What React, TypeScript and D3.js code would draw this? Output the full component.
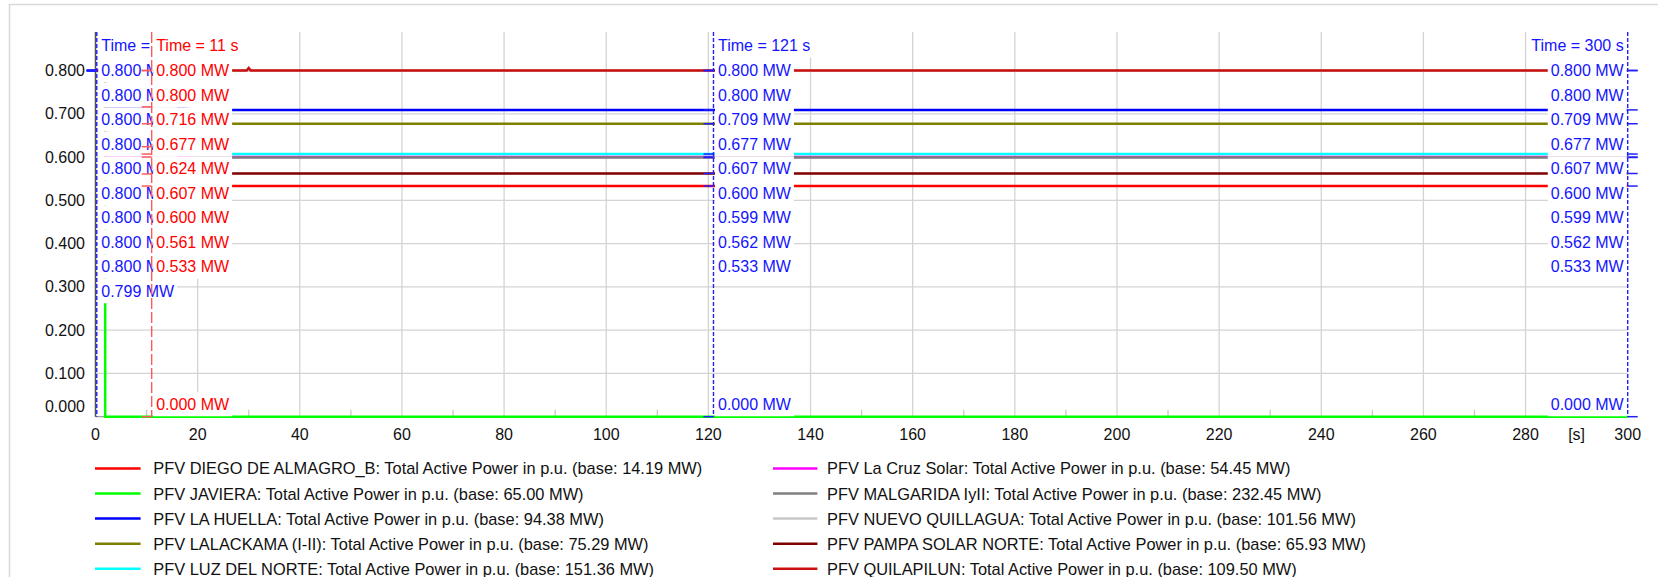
import React, { useEffect, useRef } from 'react';
import * as d3 from 'd3';

type Pt = [number, number];

// series data (time in s, value in p.u.)
const diegoDeAlmagro: Pt[] = [[0, 0.8], [1.9, 0.8], [1.9, 0.533], [300, 0.533]];
const javiera: Pt[] = [[0, 0.799], [1.9, 0.799], [1.9, 0], [300, 0]];
const laHuella: Pt[] = [[0, 0.8], [1.9, 0.8], [1.9, 0.716], [15, 0.716], [20, 0.709], [300, 0.709]];
const lalackama: Pt[] = [[0, 0.8], [1.9, 0.8], [1.9, 0.677], [300, 0.677]];
const luzDelNorte: Pt[] = [[0, 0.8], [1.9, 0.8], [1.9, 0.607], [300, 0.607]];
const laCruzSolar: Pt[] = [[0, 0.8], [1.9, 0.8], [1.9, 0.6], [300, 0.6]];
const malgarida: Pt[] = [[0, 0.8], [1.9, 0.8], [1.9, 0.624], [15, 0.624], [20, 0.599], [300, 0.599]];
const nuevoQuillagua: Pt[] = [[0, 0.8], [300, 0.8]];
const pampaSolarNorte: Pt[] = [[0, 0.8], [1.9, 0.8], [1.9, 0.561], [15, 0.561], [20, 0.562], [300, 0.562]];
const quilapilun: Pt[] = [[0, 0.8], [29.6, 0.8], [30, 0.806], [30.4, 0.8], [300, 0.8]];

const seriesNames = [
  'PFV DIEGO DE ALMAGRO_B', 'PFV JAVIERA', 'PFV LA HUELLA', 'PFV LALACKAMA (I-II)', 'PFV LUZ DEL NORTE',
  'PFV La Cruz Solar', 'PFV MALGARIDA IyII', 'PFV NUEVO QUILLAGUA', 'PFV PAMPA SOLAR NORTE', 'PFV QUILAPILUN',
];
const baseMW = [14.19, 65.0, 94.38, 75.29, 151.36, 54.45, 232.45, 101.56, 65.93, 109.5];
const seriesData = [
  diegoDeAlmagro, javiera, laHuella, lalackama, luzDelNorte,
  laCruzSolar, malgarida, nuevoQuillagua, pampaSolarNorte, quilapilun,
];
const seriesColors = [
  '#ff0000', '#00ff00', '#0000ff', '#808000', '#00ffff',
  '#ff00ff', '#808080', '#c8c8c8', '#800000', '#cc1010',
];

const cursorTimes = [0.25, 11, 121, 300];
const cursorLabels = ['Time = 0.25 s', 'Time = 11 s', 'Time = 121 s', 'Time = 300 s'];

const xTicks = [0, 20, 40, 60, 80, 100, 120, 140, 160, 180, 200, 220, 240, 260, 280, 300];
const xMinorTicks = [10, 30, 50, 70, 90, 110, 130, 150, 170, 190, 210, 230, 250, 270, 290];
const yTicks = [0, 0.1, 0.2, 0.3, 0.4, 0.5, 0.6, 0.7, 0.8];

function valueAt(pts: Pt[], t: number) {
  let i = 0;
  while (i < pts.length - 1 && pts[i + 1][0] <= t) i++;
  if (i >= pts.length - 1) return pts[pts.length - 1][1];
  const [t0, v0] = pts[i];
  const [t1, v1] = pts[i + 1];
  if (t1 === t0) return v1;
  return v0 + ((v1 - v0) * (t - t0)) / (t1 - t0);
}

export default function App() {
  const svgRef = useRef<SVGSVGElement>(null);

  useEffect(() => {
    if (!svgRef.current) return;
    const svg = d3.select(svgRef.current);
    svg.selectAll('*').remove();

    const font = '"Liberation Sans", Arial, sans-serif';
    const x = d3.scaleLinear().domain([0, 300]).range([95.5, 1627.7]);
    const y = d3.scaleLinear().domain([0, 0.889]).range([416.7, 32]);
    const [top, bottom] = [y.range()[1], y.range()[0]];

    // outer frame
    svg.append('path')
      .attr('d', 'M9.5,1000 V4.5 H2000')
      .attr('fill', 'none')
      .attr('stroke', '#d8d8d8')
      .attr('stroke-width', 1.5);

    // grid
    const grid = svg.append('g');
    grid.selectAll('line.v')
      .data(xTicks.filter(d => d > 0 && d < 300))
      .enter().append('line')
      .attr('x1', d => x(d)).attr('x2', d => x(d))
      .attr('y1', top).attr('y2', bottom)
      .attr('stroke', '#d4d4d4').attr('stroke-width', 1.3);
    grid.selectAll('line.h')
      .data(yTicks.filter(d => d > 0))
      .enter().append('line')
      .attr('x1', x(0)).attr('x2', x(300))
      .attr('y1', d => y(d)).attr('y2', d => y(d))
      .attr('stroke', '#d4d4d4').attr('stroke-width', 1.3);
    grid.selectAll('line.m')
      .data(xMinorTicks)
      .enter().append('line')
      .attr('x1', d => x(d)).attr('x2', d => x(d))
      .attr('y1', bottom).attr('y2', bottom - 7)
      .attr('stroke', '#c8c8c8').attr('stroke-width', 1.3);

    // axes
    svg.append('line')
      .attr('x1', x(0)).attr('x2', x(300)).attr('y1', bottom).attr('y2', bottom)
      .attr('stroke', '#a0a0a0').attr('stroke-width', 1.3);
    svg.append('line')
      .attr('x1', x(0)).attr('x2', x(0)).attr('y1', top).attr('y2', bottom)
      .attr('stroke', '#505050').attr('stroke-width', 1.5);

    svg.append('g').selectAll('text')
      .data(yTicks)
      .enter().append('text')
      .attr('x', 85)
      .attr('y', d => (d === 0 ? y(d) - 10 : y(d)))
      .attr('text-anchor', 'end')
      .attr('dominant-baseline', 'central')
      .attr('font-family', font).attr('font-size', 16).attr('fill', '#111')
      .text(d => d3.format('.3f')(d));

    svg.append('g').selectAll('text')
      .data(xTicks)
      .enter().append('text')
      .attr('x', d => x(d)).attr('y', 434)
      .attr('text-anchor', 'middle')
      .attr('dominant-baseline', 'central')
      .attr('font-family', font).attr('font-size', 16).attr('fill', '#111')
      .text(d => String(d));
    svg.append('text')
      .attr('x', x(290)).attr('y', 434)
      .attr('text-anchor', 'middle').attr('dominant-baseline', 'central')
      .attr('font-family', font).attr('font-size', 16).attr('fill', '#111')
      .text('[s]');

    // curves
    const line = d3.line<Pt>().x(d => x(d[0])).y(d => y(d[1]));
    svg.append('g').selectAll('path')
      .data(seriesData)
      .enter().append('path')
      .attr('d', d => line(d))
      .attr('fill', 'none')
      .attr('stroke', (_, i) => seriesColors[i])
      .attr('stroke-width', 2.5);

    // cursors
    const fmt = d3.format('.3f');
    const step = 24.5;
    cursorTimes.forEach((t, ci) => {
      const isRed = ci === 1;
      const textColor = isRed ? '#ff0000' : '#1414ff';
      const lineColor = isRed ? '#ff5a5a' : '#2020ff';
      const rightSide = t < 300;
      const cx = x(t);
      const g = svg.append('g');

      const vals = seriesData.map(s => valueAt(s, t)).sort((a, b) => b - a);
      const pos: number[] = [];
      vals.forEach((v, i) => {
        const p = y(v);
        pos.push(i === 0 ? p : Math.max(p, pos[i - 1] + step));
      });
      const maxY = bottom - 12.7;
      for (let i = pos.length - 1; i >= 0; i--) {
        if (i === pos.length - 1) pos[i] = Math.min(pos[i], maxY);
        else pos[i] = Math.min(pos[i], pos[i + 1] - step);
      }

      const labels = [{ text: cursorLabels[ci], yy: top + 13, h0: top, h1: top + 25.5 }]
        .concat(vals.map((v, i) => ({ text: `${fmt(v)} MW`, yy: pos[i], h0: pos[i] - step / 2, h1: pos[i] + step / 2 })));

      labels.forEach(l => {
        const tx = rightSide ? cx + 4.5 : cx - 4;
        const txt = g.append('text')
          .attr('x', tx).attr('y', l.yy)
          .attr('text-anchor', rightSide ? 'start' : 'end')
          .attr('dominant-baseline', 'central')
          .attr('font-family', font).attr('font-size', 16)
          .attr('fill', textColor)
          .text(l.text);
        const w = (txt.node() as SVGTextElement).getComputedTextLength();
        const x0 = rightSide ? tx - 3 : tx - w - 3;
        g.insert('rect', 'text')
          .attr('x', x0).attr('y', l.h0)
          .attr('width', w + 6).attr('height', l.h1 - l.h0)
          .attr('fill', '#fff');
      });

      // markers at the values
      g.selectAll('line.mk')
        .data(vals)
        .enter().append('line')
        .attr('x1', rightSide ? cx - 10 : cx).attr('x2', rightSide ? cx : cx + 10)
        .attr('y1', v => y(v)).attr('y2', v => y(v))
        .attr('stroke', lineColor).attr('stroke-width', 1.5);

      g.append('line')
        .attr('x1', cx).attr('x2', cx).attr('y1', top).attr('y2', bottom)
        .attr('stroke', lineColor).attr('stroke-width', 1.4)
        .attr('stroke-dasharray', isRed ? '11,3' : '4,2');
    });

    // legend
    const legend = svg.append('g');
    const colX = [[95, 140.6, 153.3], [773, 817.4, 827]];
    seriesNames.forEach((name, i) => {
      const col = Math.floor(i / 5);
      const row = i % 5;
      const ly = 468.4 + row * 25.1;
      const [l0, l1, tx] = colX[col];
      legend.append('line')
        .attr('x1', l0).attr('x2', l1).attr('y1', ly).attr('y2', ly)
        .attr('stroke', seriesColors[i]).attr('stroke-width', 2.5);
      legend.append('text')
        .attr('x', tx).attr('y', ly)
        .attr('dominant-baseline', 'central')
        .attr('font-family', font).attr('font-size', 16.4).attr('fill', '#111')
        .text(`${name}: Total Active Power in p.u. (base: ${baseMW[i].toFixed(2)} MW)`);
    });
  }, []);

  return (
    <svg
      ref={svgRef}
      width={1658}
      height={577}
      style={{ position: 'absolute', left: 0, top: 0, background: '#fff' }}
    />
  );
}
